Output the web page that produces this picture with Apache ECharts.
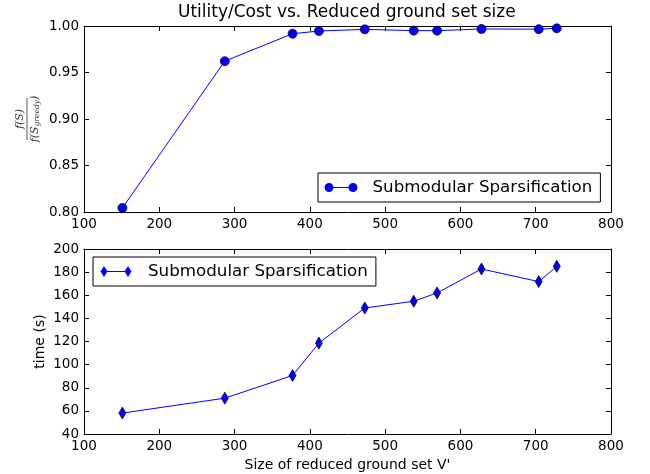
<!DOCTYPE html>
<html>
<head>
<meta charset="utf-8">
<script src="https://cdn.jsdelivr.net/npm/echarts@6/dist/echarts.min.js"></script>
<style>html,body{margin:0;padding:0;background:#fff}#c{width:650px;height:474px}</style>
</head>
<body>
<div id="c"></div>
<script>
// ---- data ----
var groundSetSize = [151, 287, 377, 412, 473, 538, 569, 628, 704, 728];
var utilityRatio = [0.8043, 0.9622, 0.9917, 0.9946, 0.9964, 0.9950, 0.9950, 0.9968, 0.9966, 0.9975];
var timeSeconds = [58.1, 71.0, 90.6, 118.6, 149.0, 154.8, 162.0, 182.7, 171.8, 185.0];
var seriesName = 'Submodular Sparsification';
var titleText = 'Utility/Cost vs. Reduced ground set size';
var xAxisTitle = "Size of reduced ground set V'";
var timeAxisTitle = 'time (s)';

var FONT = 'DejaVu Sans';
var TICK_FS = 13.5;
function pairs(xs, ys) { return xs.map(function (x, i) { return [x, ys[i]]; }); }

function xAx(grid, pos, labels) {
  return {
    type: 'value', gridIndex: grid, position: pos, min: 100, max: 800, interval: 100,
    axisLine: { show: true, onZero: false, lineStyle: { color: '#000', width: 1 } },
    axisTick: { show: true, inside: true, length: 5, lineStyle: { color: '#000' } },
    axisLabel: { show: labels, color: '#000', fontSize: TICK_FS, fontFamily: FONT, margin: 5, showMinLabel: true, showMaxLabel: true },
    splitLine: { show: false }
  };
}
function yAx(grid, pos, labels, min, max, interval, digits) {
  return {
    type: 'value', gridIndex: grid, position: pos, min: min, max: max, interval: interval,
    axisLine: { show: true, onZero: false, lineStyle: { color: '#000', width: 1 } },
    axisTick: { show: true, inside: true, length: 5, lineStyle: { color: '#000' } },
    axisLabel: { show: labels, color: '#000', fontSize: TICK_FS, fontFamily: FONT, margin: 5, showMinLabel: true, showMaxLabel: true,
      formatter: function (v) { return v.toFixed(digits); } },
    splitLine: { show: false }
  };
}

var xa0 = xAx(0, 'bottom', true);
var xa1 = xAx(0, 'top', false);
var xa2 = xAx(1, 'bottom', true);
xa2.name = xAxisTitle; xa2.nameLocation = 'middle'; xa2.nameGap = 24; xa2.nameMoveOverlap = false;
xa2.nameTextStyle = { color: '#000', fontSize: 14, fontFamily: FONT };
var xa3 = xAx(1, 'top', false);

var ya0 = yAx(0, 'left', true, 0.8, 1.0, 0.05, 2);
var ya1 = yAx(0, 'right', false, 0.8, 1.0, 0.05, 2);
var ya2 = yAx(1, 'left', true, 40, 200, 20, 0);
ya2.name = timeAxisTitle; ya2.nameLocation = 'middle'; ya2.nameGap = 37; ya2.nameMoveOverlap = false;
ya2.nameTextStyle = { color: '#000', fontSize: 14, fontFamily: FONT };
var ya3 = yAx(1, 'right', false, 40, 200, 20, 0);

var circleIcon = 'path://M0,4.5 A4.5,4.5 0 1,1 9,4.5 A4.5,4.5 0 1,1 0,4.5 Z M24,4.5 A4.5,4.5 0 1,1 33,4.5 A4.5,4.5 0 1,1 24,4.5 Z M4.5,4 L28.5,4 L28.5,5 L4.5,5 Z';
var diamondIcon = 'path://M0,5.5 L3.5,0 L7,5.5 L3.5,11 Z M24,5.5 L27.5,0 L31,5.5 L27.5,11 Z M3.5,5 L27.5,5 L27.5,6 L3.5,6 Z';

var chart = echarts.init(document.getElementById('c'), null, { renderer: 'canvas' });
chart.setOption({
  animation: false,
  backgroundColor: '#fff',
  textStyle: { fontFamily: FONT },
  title: {
    text: titleText, left: 178, top: 4, padding: 0,
    textStyle: { color: '#000', fontSize: 17, fontWeight: 'normal', fontFamily: FONT }
  },
  grid: [
    { left: 84, width: 527, top: 26, height: 186 },
    { left: 84, width: 527, top: 249, height: 185 }
  ],
  xAxis: [xa0, xa1, xa2, xa3],
  yAxis: [ya0, ya1, ya2, ya3],
  legend: [
    {
      data: [seriesName], left: 318, top: 173, orient: 'horizontal',
      padding: [4.5, 8, 4.5, 6.5], borderColor: '#000', borderWidth: 1, borderRadius: 0,
      icon: circleIcon, itemWidth: 33, itemHeight: 9, selectedMode: false,
      itemStyle: { color: '#0000ff', borderWidth: 0 },
      textStyle: { color: '#000', fontSize: 16.7, fontFamily: FONT, lineHeight: 20, padding: [0, 0, 0, 10] }
    },
    {
      data: [seriesName], left: 93, top: 257, orient: 'horizontal',
      padding: [4.5, 8, 4.5, 7.5], borderColor: '#000', borderWidth: 1, borderRadius: 0,
      icon: diamondIcon, itemWidth: 31, itemHeight: 11, selectedMode: false,
      itemStyle: { color: '#0000ff', borderWidth: 0 },
      textStyle: { color: '#000', fontSize: 16.7, fontFamily: FONT, lineHeight: 20, padding: [0, 0, 0, 11.5] }
    }
  ],
  graphic: [
    {
      type: 'group', x: 27, y: 119, rotation: Math.PI / 2,
      children: [
        { type: 'text', x: 0, y: -7, style: { text: 'f(S)', font: 'italic 11px "DejaVu Serif"', fill: '#333', align: 'center', verticalAlign: 'middle' } },
        { type: 'line', shape: { x1: -21, y1: 0, x2: 21, y2: 0 }, style: { stroke: '#333', lineWidth: 0.8 } },
        { type: 'text', x: 0, y: 8, style: {
            text: '{a|f(S}{b|greedy}{a|)}', align: 'center', verticalAlign: 'middle',
            rich: {
              a: { font: 'italic 11px "DejaVu Serif"', fill: '#333' },
              b: { font: 'italic 7.5px "DejaVu Serif"', fill: '#333', padding: [4, 0, 0, 0] }
            }
        } }
      ]
    }
  ],
  series: [
    {
      name: seriesName, type: 'line', xAxisIndex: 0, yAxisIndex: 0,
      data: pairs(groundSetSize, utilityRatio),
      symbol: 'circle', symbolSize: 9, showSymbol: true,
      lineStyle: { color: '#0000ff', width: 1 },
      itemStyle: { color: '#0000ff', borderColor: '#000', borderWidth: 0.7 }
    },
    {
      name: seriesName, type: 'line', xAxisIndex: 2, yAxisIndex: 2,
      data: pairs(groundSetSize, timeSeconds),
      symbol: 'diamond', symbolSize: [7, 12], showSymbol: true,
      lineStyle: { color: '#0000ff', width: 1 },
      itemStyle: { color: '#0000ff', borderColor: '#000', borderWidth: 0.7 }
    }
  ]
});
</script>
</body>
</html>
